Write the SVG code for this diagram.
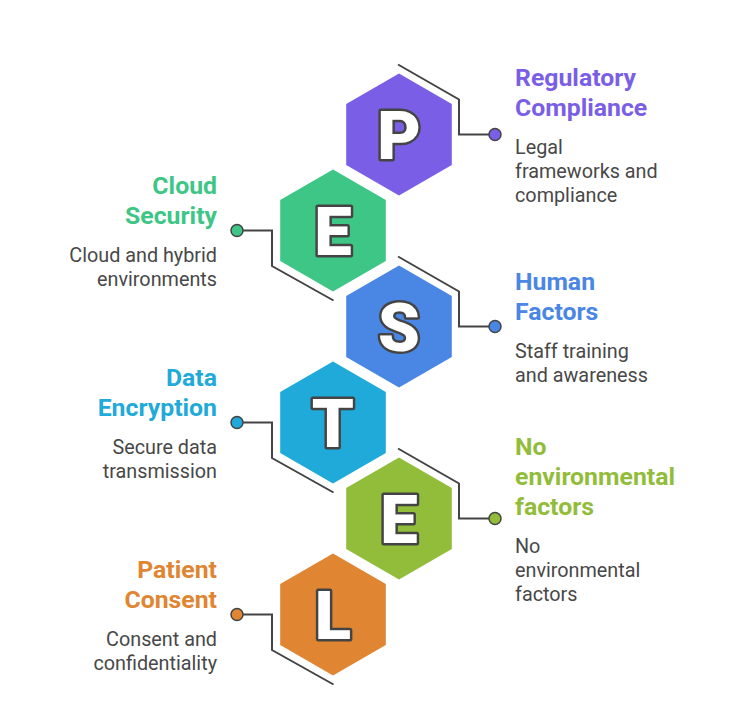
<svg xmlns="http://www.w3.org/2000/svg" xmlns:xlink="http://www.w3.org/1999/xlink" width="732" height="725" viewBox="0 0 732 725">
<defs>
<path id="hex" d="M0,-61 L52.8,-30.5 L52.8,30.5 L0,61 L-52.8,30.5 L-52.8,-30.5Z"/>
<style>
.letter{font-family:Roboto,"Liberation Sans",sans-serif;font-weight:900;font-size:67px;fill:#fff;stroke:#444;stroke-width:5;paint-order:stroke;stroke-linejoin:round;text-anchor:middle}
.title{font-family:Roboto,"Liberation Sans",sans-serif;font-weight:700;font-size:24.8px}
.desc{font-family:Roboto,"Liberation Sans",sans-serif;font-size:19.8px;fill:#484848}
.r{text-anchor:start}
.l{text-anchor:end}
.conn{fill:none;stroke:#444;stroke-width:2}
.dot{stroke:#444;stroke-width:1.5}
</style>
</defs>
<rect width="732" height="725" fill="#fff"/>
<g id="connectors">
<polyline class="conn" points="398,64.5 459,99.5 459,134.5 489,134.5"/>
<polyline class="conn" points="243,230.5 272,230.5 272,266 333.5,300.5"/>
<polyline class="conn" points="398,256.5 459,291.5 459,326.5 489,326.5"/>
<polyline class="conn" points="243,422.5 272,422.5 272,458 333.5,492.5"/>
<polyline class="conn" points="398,448.5 459,483.5 459,518.5 489,518.5"/>
<polyline class="conn" points="243,614.5 272,614.5 272,650 333.5,684.5"/>
</g>
<g id="node-P">
<use xlink:href="#hex" x="399" y="134.5" fill="#7A5FE6"/>
<text class="letter" x="399" y="158.5">P</text>
<circle class="dot" cx="495" cy="134.5" r="6" fill="#7A5FE6"/>
<text class="title r" fill="#7A5FE6"><tspan x="515" y="86">Regulatory</tspan><tspan x="515" y="116">Compliance</tspan></text>
<text class="desc r"><tspan x="515" y="154">Legal</tspan><tspan x="515" y="178">frameworks and</tspan><tspan x="515" y="202">compliance</tspan></text>
</g>
<g id="node-E1">
<use xlink:href="#hex" x="333" y="230.5" fill="#3EC686"/>
<text class="letter" x="333" y="254.5">E</text>
<circle class="dot" cx="237" cy="230.5" r="6" fill="#3EC686"/>
<text class="title l" fill="#3EC686"><tspan x="217" y="194">Cloud</tspan><tspan x="217" y="224">Security</tspan></text>
<text class="desc l"><tspan x="217" y="262">Cloud and hybrid</tspan><tspan x="217" y="286">environments</tspan></text>
</g>
<g id="node-S">
<use xlink:href="#hex" x="399" y="326.5" fill="#4A87E5"/>
<text class="letter" x="399" y="350.5">S</text>
<circle class="dot" cx="495" cy="326.5" r="6" fill="#4A87E5"/>
<text class="title r" fill="#4A87E5"><tspan x="515" y="290">Human</tspan><tspan x="515" y="320">Factors</tspan></text>
<text class="desc r"><tspan x="515" y="358">Staff training</tspan><tspan x="515" y="382">and awareness</tspan></text>
</g>
<g id="node-T">
<use xlink:href="#hex" x="333" y="422.5" fill="#1FAAD9"/>
<text class="letter" x="333" y="446.5">T</text>
<circle class="dot" cx="237" cy="422.5" r="6" fill="#1FAAD9"/>
<text class="title l" fill="#1FAAD9"><tspan x="217" y="386">Data</tspan><tspan x="217" y="416">Encryption</tspan></text>
<text class="desc l"><tspan x="217" y="454">Secure data</tspan><tspan x="217" y="478">transmission</tspan></text>
</g>
<g id="node-E2">
<use xlink:href="#hex" x="399" y="518.5" fill="#92BD3B"/>
<text class="letter" x="399" y="542.5">E</text>
<circle class="dot" cx="495" cy="518.5" r="6" fill="#92BD3B"/>
<text class="title r" fill="#92BD3B"><tspan x="515" y="455">No</tspan><tspan x="515" y="485">environmental</tspan><tspan x="515" y="515">factors</tspan></text>
<text class="desc r"><tspan x="515" y="553">No</tspan><tspan x="515" y="577">environmental</tspan><tspan x="515" y="601">factors</tspan></text>
</g>
<g id="node-L">
<use xlink:href="#hex" x="333" y="614.5" fill="#E08531"/>
<text class="letter" x="333" y="638.5">L</text>
<circle class="dot" cx="237" cy="614.5" r="6" fill="#E08531"/>
<text class="title l" fill="#E08531"><tspan x="217" y="578">Patient</tspan><tspan x="217" y="608">Consent</tspan></text>
<text class="desc l"><tspan x="217" y="646">Consent and</tspan><tspan x="217" y="670">confidentiality</tspan></text>
</g>
</svg>
